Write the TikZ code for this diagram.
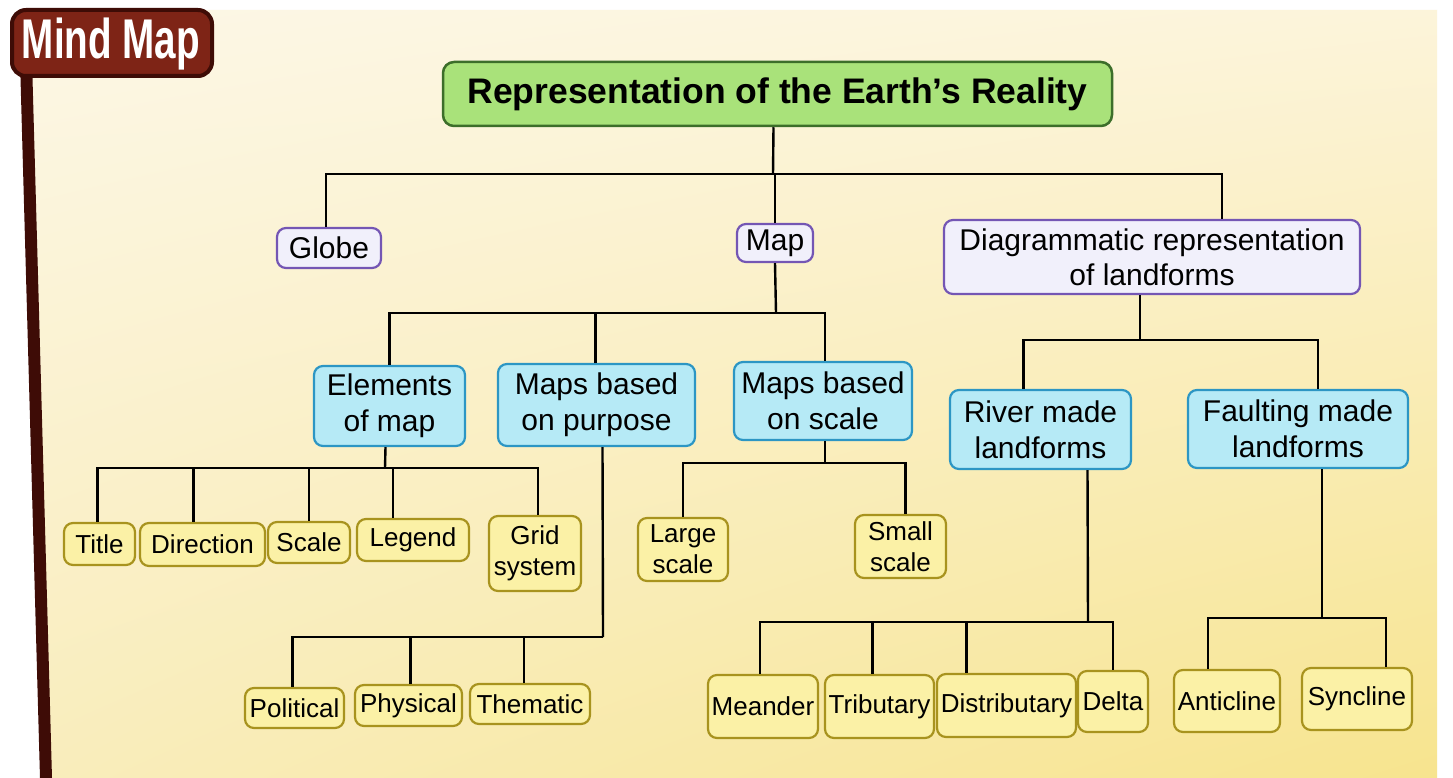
\documentclass[tikz,border=0pt]{standalone}
\usepackage{fontspec}
\usepackage{graphicx}
\usetikzlibrary{shadings}
\setmainfont{Liberation Sans}
\setsansfont{Liberation Sans}
\definecolor{rootfill}{HTML}{A9E27A}
\definecolor{rootdraw}{HTML}{3C6E2A}
\definecolor{purfill}{HTML}{F1F0FB}
\definecolor{purdraw}{HTML}{7456B4}
\definecolor{bluefill}{HTML}{B6EAF6}
\definecolor{bluedraw}{HTML}{2C96C4}
\definecolor{leaffill}{HTML}{FBF1A6}
\definecolor{leafdraw}{HTML}{A8931E}
\definecolor{tagfill}{HTML}{7E2416}
\definecolor{tagdraw}{HTML}{3E0C06}
\definecolor{bgUL}{HTML}{FCF7E6}
\definecolor{bgUR}{HTML}{FCF4DA}
\definecolor{bgLL}{HTML}{F9EDBC}
\definecolor{bgLR}{HTML}{F7E48E}
\tikzset{
  box/.style={rectangle, rounded corners=9pt, inner sep=0pt, align=center, line width=2.2pt, text=black},
  rootbox/.style={box, fill=rootfill, draw=rootdraw, line width=2.5pt, rounded corners=11pt, font=\fontsize{35.5}{40}\selectfont\bfseries},
  topbox/.style={box, fill=purfill, draw=purdraw, font=\fontsize{30}{35}\selectfont},
  midbox/.style={box, fill=bluefill, draw=bluedraw, font=\fontsize{30}{36}\selectfont},
  leafbox/.style={box, fill=leaffill, draw=leafdraw, font=\fontsize{26}{31}\selectfont},
  wire/.style={draw=black, line width=2.4pt},
}
\begin{document}
\begin{tikzpicture}[x=1pt,y=-1pt]
\useasboundingbox (0,0) rectangle (1453,778);
% background
\fill[white] (0,0) rectangle (1453,778);
\shade[upper left=bgUL, upper right=bgUR, lower left=bgLL, lower right=bgLR]
  (30,10) -- (1437,10) -- (1437,778) -- (48,778) -- cycle;
% left bar
\fill[tagdraw] (20,60) -- (32,60) -- (52,778) -- (40,778) -- cycle;
% tag
\node[rectangle, rounded corners=14pt, fill=tagfill, draw=tagdraw, line width=4pt,
      minimum width=200, minimum height=66, inner sep=0pt] (tag) at (112,43) {};
\node[text=white, font=\fontsize{56}{60}\selectfont\bfseries, inner sep=0pt] (tagtext) at (111,44)
  {\scalebox{0.69}[1]{Mind Map}};

% nodes
\node[rootbox, minimum width=669, minimum height=64] (root) at (777.5,94) {Representation of the Earth’s Reality};

\node[topbox, minimum width=104, minimum height=40] (globe) at (329,248) {Globe};
\node[topbox, minimum width=76, minimum height=38] (map) at (775,243) {Map};
\node[topbox, minimum width=416, minimum height=74] (diag) at (1152,257) {Diagrammatic representation\\of landforms};

\node[midbox, minimum width=151, minimum height=80] (elem) at (389.5,406) {Elements\\of map};
\node[midbox, minimum width=197, minimum height=82] (purp) at (596.5,405) {Maps based\\on purpose};
\node[midbox, minimum width=178, minimum height=78] (scl) at (823,401) {Maps based\\on scale};
\node[midbox, minimum width=181, minimum height=79] (river) at (1040.5,429.5) {River made\\landforms};
\node[midbox, minimum width=220, minimum height=78] (fault) at (1298,429) {Faulting made\\landforms};

\node[leafbox, minimum width=71, minimum height=42] (title) at (99.5,544) {Title};
\node[leafbox, minimum width=125, minimum height=43] (dir) at (202.5,544.5) {Direction};
\node[leafbox, minimum width=82, minimum height=41] (scale) at (309,542.5) {Scale};
\node[leafbox, minimum width=112, minimum height=42] (legend) at (413,540) {Legend};
\node[leafbox, minimum width=92, minimum height=75] (grid) at (535,553.5) {Grid\\system};

\node[leafbox, minimum width=90, minimum height=63] (large) at (683,549.5) {Large\\scale};
\node[leafbox, minimum width=91, minimum height=63] (small) at (900.5,546.5) {Small\\scale};

\node[leafbox, minimum width=99, minimum height=40] (pol) at (294.5,708) {Political};
\node[leafbox, minimum width=107, minimum height=41] (phy) at (408.5,705.5) {Physical};
\node[leafbox, minimum width=120, minimum height=40] (them) at (530,704) {Thematic};

\node[leafbox, minimum width=110, minimum height=63] (mea) at (763,706.5) {Meander};
\node[leafbox, minimum width=109, minimum height=63] (trib) at (879.5,706.5) {Tributary};
\node[leafbox, minimum width=139, minimum height=63] (dist) at (1006.5,705.5) {Distributary};
\node[leafbox, minimum width=70, minimum height=61] (delta) at (1113,701.5) {Delta};
\node[leafbox, minimum width=106, minimum height=62] (anti) at (1227,701) {Anticline};
\node[leafbox, minimum width=110, minimum height=62] (sync) at (1357,699) {Syncline};

% junction coordinates
\coordinate (j1) at (773,174);
\coordinate (j2) at (776,313);
\coordinate (j3) at (1140,340);
\coordinate (j4) at (385,468);
\coordinate (j5) at (603,637);
\coordinate (j6) at (825,463);
\coordinate (j7) at (1088,622);
\coordinate (j8) at (1322,618);

% connectors
\draw[wire] ([xshift=-4pt]root.south) -- (j1);
\draw[wire] ([xshift=-3pt]globe.north) |- (j1);
\draw[wire] (map.north) -- (map.north |- j1);
\draw[wire] ([xshift=70pt]diag.north) |- (j1);

\draw[wire] (map.south) -- (j2);
\draw[wire] (elem.north) |- (j2);
\draw[wire] ([xshift=-1pt]purp.north) -- ([xshift=-1pt]purp.north |- j2);
\draw[wire] ([xshift=2pt]scl.north) |- (j2);

\draw[wire] ([xshift=-12pt]diag.south) -- (j3);
\draw[wire] ([xshift=-17pt]river.north) |- (j3);
\draw[wire] ([xshift=20pt]fault.north) |- (j3);

\draw[wire] ([xshift=-4pt]elem.south) -- (j4);
\draw[wire] ([xshift=-2pt]title.north) |- (j4);
\draw[wire] ([xshift=-9pt]dir.north) -- ([xshift=-9pt]dir.north |- j4);
\draw[wire] (scale.north) -- (scale.north |- j4);
\draw[wire] ([xshift=-20pt]legend.north) -- ([xshift=-20pt]legend.north |- j4);
\draw[wire] ([xshift=3pt]grid.north) |- (j4);

\draw[wire] ([xshift=6pt]purp.south) -- (j5);
\draw[wire] ([xshift=-2pt]pol.north) |- (j5);
\draw[wire] ([xshift=2pt]phy.north) -- ([xshift=2pt]phy.north |- j5);
\draw[wire] ([xshift=-6pt]them.north) -- ([xshift=-6pt]them.north |- j5);

\draw[wire] ([xshift=2pt]scl.south) -- (j6);
\draw[wire] (large.north) |- (j6);
\draw[wire] ([xshift=5pt]small.north) |- (j6);

\draw[wire] ([xshift=47pt]river.south) -- (j7);
\draw[wire] ([xshift=-3pt]mea.north) |- (j7);
\draw[wire] ([xshift=-7pt]trib.north) -- ([xshift=-7pt]trib.north |- j7);
\draw[wire] ([xshift=-40pt]dist.north) -- ([xshift=-40pt]dist.north |- j7);
\draw[wire] (delta.north) |- (j7);

\draw[wire] ([xshift=24pt]fault.south) -- (j8);
\draw[wire] ([xshift=-19pt]anti.north) |- (j8);
\draw[wire] ([xshift=29pt]sync.north) |- (j8);
\end{tikzpicture}
\end{document}
